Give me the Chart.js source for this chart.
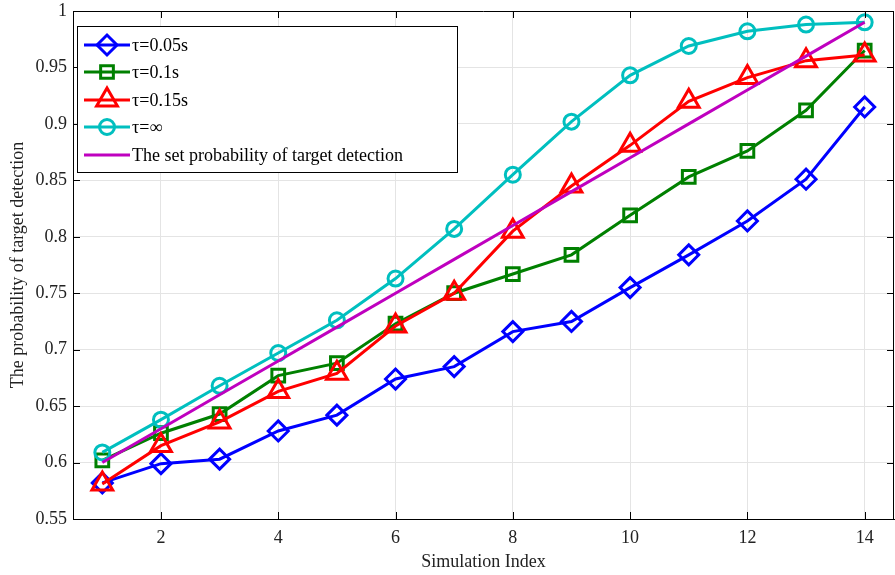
<!DOCTYPE html>
<html>
<head>
<meta charset="utf-8">
<script src="https://cdn.jsdelivr.net/npm/chart.js@4.4.1/dist/chart.umd.min.js"></script>
<style>
    html, body { margin: 0; padding: 0; background: #fff; }
    #wrap { width: 895px; height: 575px; }
</style>
</head>
<body>
<div id="wrap"><canvas id="c" width="895" height="575"></canvas></div>
<script>
/* Detection probability vs simulation index */
const simIndex = [1, 2, 3, 4, 5, 6, 7, 8, 9, 10, 11, 12, 13, 14];
const tau005 = [0.582, 0.599, 0.603, 0.628, 0.642, 0.674, 0.685, 0.716, 0.725, 0.755, 0.784, 0.814, 0.851, 0.915];
const tau01 = [0.602, 0.626, 0.643, 0.677, 0.688, 0.723, 0.750, 0.767, 0.784, 0.819, 0.853, 0.876, 0.912, 0.965];
const tau015 = [0.581, 0.615, 0.636, 0.663, 0.679, 0.721, 0.750, 0.805, 0.845, 0.881, 0.920, 0.941, 0.956, 0.961];
const tauInf = [0.609, 0.638, 0.668, 0.697, 0.726, 0.763, 0.807, 0.855, 0.902, 0.943, 0.969, 0.982, 0.988, 0.990];
const setProb = [0.60, 0.63, 0.66, 0.69, 0.72, 0.75, 0.78, 0.81, 0.84, 0.87, 0.90, 0.93, 0.96, 0.99];

const seriesLabels = ['τ=0.05s', 'τ=0.1s', 'τ=0.15s', 'τ=∞', 'The set probability of target detection'];
const xTicks = [2, 4, 6, 8, 10, 12, 14];
const yTicks = [0.55, 0.6, 0.65, 0.7, 0.75, 0.8, 0.85, 0.9, 0.95, 1];

const FONT = "'Liberation Serif', 'Times New Roman', serif";
const AREA = { left: 73, right: 894, top: 11, bottom: 519 }; // plot box, as in the figure
const pts = (ys) => ys.map((y, i) => ({ x: simIndex[i], y }));

function line(label, data, color, style, radius, order) {
    return {
        label, data: pts(data), order,
        borderColor: color, backgroundColor: color,
        borderWidth: 3, tension: 0,
        pointStyle: style || false,
        pointRadius: style ? radius : 0,
        pointBorderWidth: 3,
        pointBackgroundColor: 'rgba(0,0,0,0)',
        pointBorderColor: color,
        clip: false,
    };
}

const datasets = [
    line(seriesLabels[0], tau005, '#0000ff', 'rectRot', 10, 5),
    line(seriesLabels[1], tau01, '#008000', 'rect', 9, 4),
    line(seriesLabels[2], tau015, '#ff0000', 'triangle', 12, 3),
    line(seriesLabels[3], tauInf, '#00bfbf', 'circle', 7.5, 2),
    line(seriesLabels[4], setProb, '#bf00bf', null, 0, 1),
];

// pin the plot box to the figure's position (chart.js reserves room for edge labels otherwise)
const pinAreaPlugin = {
    id: 'pinArea',
    afterLayout(chart) {
        const a = chart.chartArea;
        Object.assign(a, AREA);
        a.width = a.right - a.left;
        a.height = a.bottom - a.top;
        const { x, y } = chart.scales;
        x.left = a.left; x.right = a.right; x.width = a.width;
        x.top = a.bottom; x.bottom = chart.height; x.height = x.bottom - x.top;
        y.top = a.top; y.bottom = a.bottom; y.height = a.height;
        y.left = 0; y.right = a.left; y.width = a.left;
        x.configure();
        y.configure();
    },
};

// MATLAB-like box: top/right border and inward tick marks
const framePlugin = {
    id: 'frame',
    afterDatasetsDraw(chart) {
        const { ctx, chartArea: a, scales } = chart;
        ctx.save();
        ctx.strokeStyle = '#000';
        ctx.lineWidth = 1;
        ctx.beginPath();
        ctx.moveTo(a.left, a.top + 0.5); ctx.lineTo(a.right, a.top + 0.5);
        ctx.moveTo(a.right - 0.5, a.top); ctx.lineTo(a.right - 0.5, a.bottom);
        const tl = 7;
        for (const v of xTicks) {
            const x = Math.round(scales.x.getPixelForValue(v)) + 0.5;
            ctx.moveTo(x, a.bottom); ctx.lineTo(x, a.bottom - tl);
            ctx.moveTo(x, a.top); ctx.lineTo(x, a.top + tl);
        }
        for (const v of yTicks) {
            const y = Math.round(scales.y.getPixelForValue(v)) + 0.5;
            ctx.moveTo(a.left, y); ctx.lineTo(a.left + tl, y);
            ctx.moveTo(a.right, y); ctx.lineTo(a.right - tl, y);
        }
        ctx.stroke();
        ctx.restore();
    },
};

// legend box inside the axes, upper left
const legendPlugin = {
    id: 'boxLegend',
    afterDraw(chart) {
        const ctx = chart.ctx;
        const box = { x: 77.5, y: 26.5, w: 380, h: 146 };
        const rowY = [45, 72, 100, 127, 155];
        ctx.save();
        ctx.fillStyle = '#fff';
        ctx.fillRect(box.x, box.y, box.w, box.h);
        ctx.strokeStyle = '#000';
        ctx.lineWidth = 1;
        ctx.strokeRect(box.x, box.y, box.w, box.h);
        ctx.font = '18px ' + FONT;
        ctx.textBaseline = 'middle';
        datasets.forEach((ds, i) => {
            const y = rowY[i];
            ctx.strokeStyle = ds.borderColor;
            ctx.lineWidth = 3;
            ctx.beginPath();
            ctx.moveTo(84, y); ctx.lineTo(130, y);
            ctx.stroke();
            if (ds.pointStyle) {
                ctx.fillStyle = 'rgba(0,0,0,0)';
                ctx.strokeStyle = ds.borderColor;
                ctx.lineWidth = 3;
                Chart.helpers.drawPoint(ctx, {
                    pointStyle: ds.pointStyle, radius: ds.pointRadius, rotation: 0, borderWidth: 3,
                }, 107, y);
            }
            ctx.fillStyle = '#000';
            ctx.fillText(ds.label, 132, y + 1);
        });
        ctx.restore();
    },
};

const fmtTick = (v) => String(Number(v.toFixed(2)));

new Chart(document.getElementById('c'), {
    type: 'line',
    data: { datasets },
    plugins: [pinAreaPlugin, framePlugin, legendPlugin],
    options: {
        responsive: false,
        animation: false,
        devicePixelRatio: 1,
        events: [],
        layout: { padding: { left: 0, right: 1, top: 11, bottom: 0 } },
        plugins: { legend: { display: false }, tooltip: { enabled: false } },
        scales: {
            x: {
                type: 'linear', min: 0.5, max: 14.5,
                afterBuildTicks: (s) => { s.ticks = xTicks.map((v) => ({ value: v })); },
                afterFit: (s) => { s.height = 56; },
                grid: { color: '#e4e4e4', lineWidth: 1, drawTicks: false },
                border: { display: true, color: '#000', width: 1 },
                ticks: { font: { family: FONT, size: 18 }, color: '#222', padding: 8, maxRotation: 0, callback: fmtTick },
                title: { display: true, text: 'Simulation Index', font: { family: FONT, size: 18 }, color: '#222', padding: { top: 0, bottom: 2 } },
            },
            y: {
                type: 'linear', min: 0.55, max: 1,
                afterBuildTicks: (s) => { s.ticks = yTicks.map((v) => ({ value: v })); },
                afterFit: (s) => { s.width = 73; },
                grid: { color: '#e4e4e4', lineWidth: 1, drawTicks: false },
                border: { display: true, color: '#000', width: 1 },
                ticks: { font: { family: FONT, size: 18 }, color: '#222', padding: 6, callback: fmtTick },
                title: { display: true, text: 'The probability of target detection', font: { family: FONT, size: 18 }, color: '#222', padding: { top: 7, bottom: 0 } },
            },
        },
    },
});
</script>
</body>
</html>
